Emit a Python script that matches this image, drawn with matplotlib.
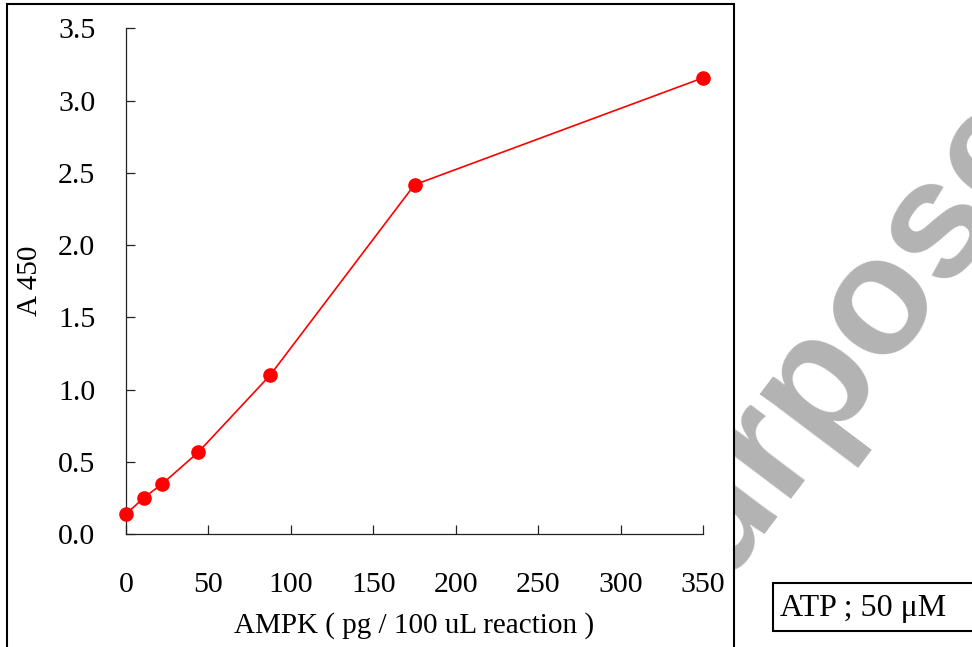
import matplotlib
matplotlib.use("Agg")
import matplotlib.pyplot as plt
from matplotlib.patches import Rectangle

# Data
ampk_pg = [0, 10.9, 21.9, 43.75, 87.5, 175, 350]
a450 = [0.137, 0.252, 0.346, 0.565, 1.100, 2.417, 3.157]
x_ticks = [0, 50, 100, 150, 200, 250, 300, 350]
y_ticks = [0.0, 0.5, 1.0, 1.5, 2.0, 2.5, 3.0, 3.5]
x_label = "AMPK ( pg / 100 uL reaction )"
y_label = "A 450"
note = "ATP ; 50 \u03bcM"
watermark = "Purpose"

W, H = 972, 647
fig = plt.figure(figsize=(W / 100, H / 100), dpi=100)
fig.patch.set_facecolor("white")

serif = ["Liberation Serif", "DejaVu Serif"]

# Watermark (behind the white chart frame), anchored at its baseline start
fig.text(653 / W, 1 - 668 / H, watermark, rotation=53, rotation_mode="anchor",
         ha="left", va="baseline", fontsize=120, fontweight="bold",
         family=["Liberation Sans", "DejaVu Sans"], color="#b3b3b3", zorder=-3)

# Chart frame
frame = Rectangle((7 / W, -0.02), (734 - 7) / W, 1 - 4 / H + 0.02,
                  transform=fig.transFigure, facecolor="white", edgecolor="black",
                  linewidth=1.5, zorder=-2)
fig.add_artist(frame)

# Axes
l, r, t, b = 126, 703, 28.3, 534
ax = fig.add_axes([l / W, 1 - b / H, (r - l) / W, (b - t) / H])
ax.set_facecolor("none")
ax.plot(ampk_pg, a450, color="red", lw=1.2, marker="o", ms=9.5,
        markeredgecolor="red", markerfacecolor="red", clip_on=False, zorder=3)

ax.set_xlim(0, 350)
ax.set_ylim(0, 3.5)
ax.set_xticks(x_ticks)
ax.set_xticklabels([f"{v:g}" for v in x_ticks])
ax.set_yticks(y_ticks)
ax.set_yticklabels([f"{v:.1f}" for v in y_ticks])

for s in ["top", "right"]:
    ax.spines[s].set_visible(False)
for s in ["left", "bottom"]:
    ax.spines[s].set_color("#222222")
    ax.spines[s].set_linewidth(0.9)

ax.tick_params(axis="both", direction="in", length=6.5, width=0.9, color="#222222",
               labelsize=21.5)
ax.tick_params(axis="x", pad=27)
ax.tick_params(axis="y", pad=22)
for lab in ax.get_xticklabels() + ax.get_yticklabels():
    lab.set_family(serif)

ax.set_xlabel(x_label, fontsize=21, family=serif, va="center")
ax.set_ylabel(y_label, fontsize=21, family=serif, va="center")
ax.xaxis.set_label_coords(0.5, (b - 626) / (b - t))
ax.yaxis.set_label_coords((30 - l) / (r - l), 0.5)

# Note box
box = Rectangle((773 / W, 1 - 631 / H), (1000 - 773) / W, (631 - 583) / H,
                transform=fig.transFigure, facecolor="white", edgecolor="black",
                linewidth=1.5, zorder=1)
fig.add_artist(box)
fig.text(780 / W, 1 - 616 / H, note, fontsize=23, family=serif,
         ha="left", va="baseline", zorder=2)

fig.savefig("out.png", dpi=100, facecolor="white")
